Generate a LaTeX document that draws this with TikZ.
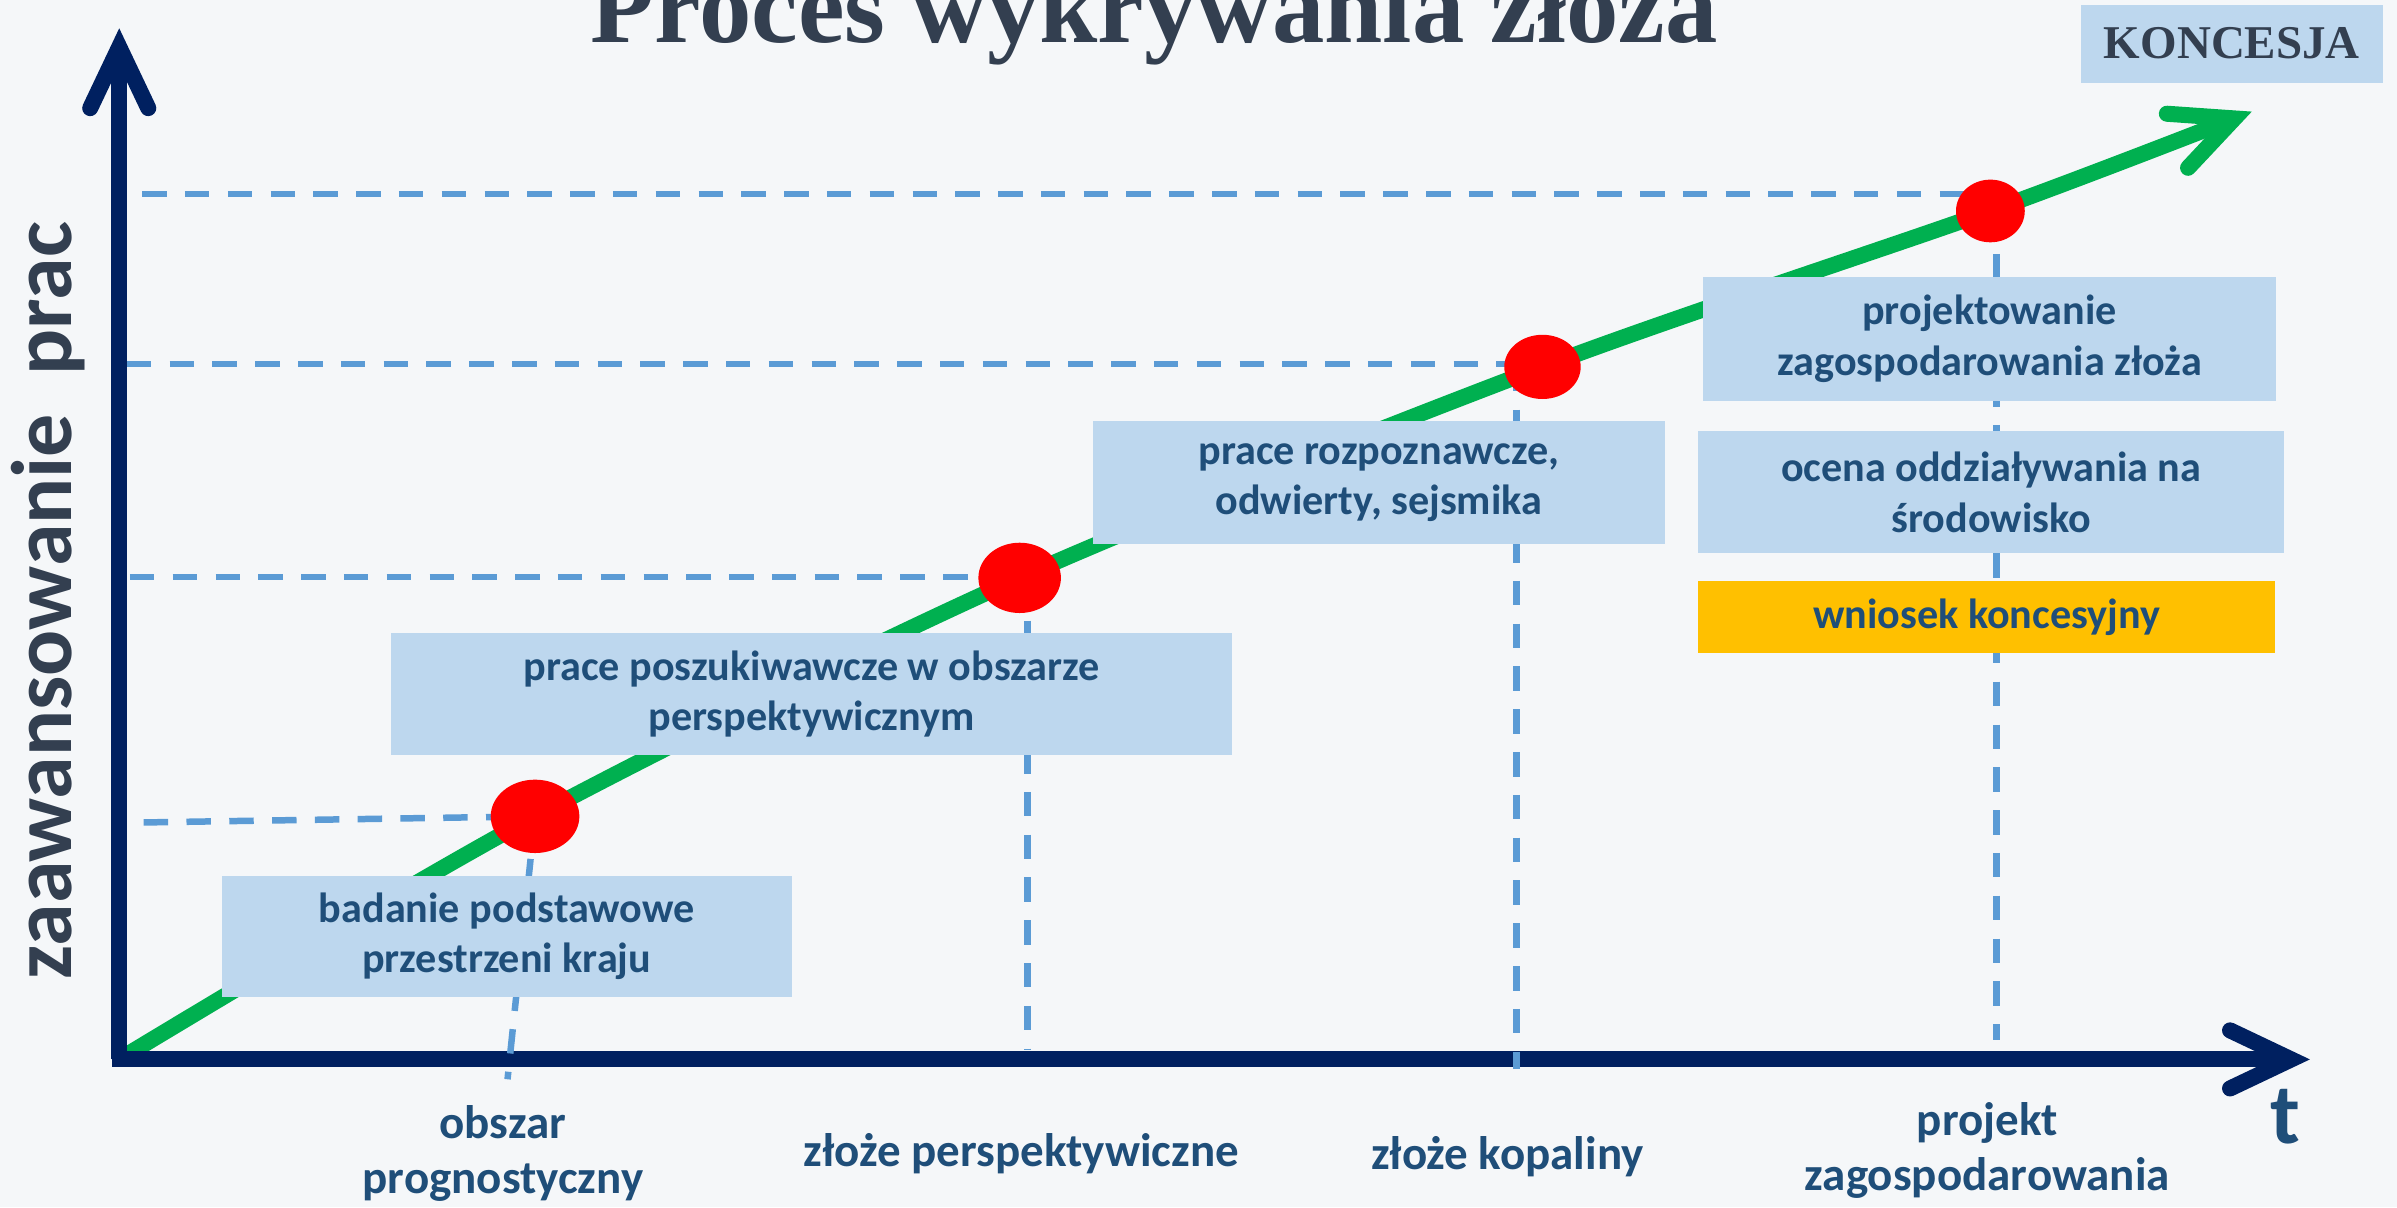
\documentclass[tikz,border=0pt]{standalone}
\usepackage{fontspec}
\setmainfont{Carlito}
\newfontfamily\titlefont{Liberation Serif}
\usetikzlibrary{arrows.meta}
\usetikzlibrary{shapes.geometric}

\definecolor{bgcol}{HTML}{F5F7F9}
\definecolor{axisblue}{HTML}{002060}
\definecolor{guideblue}{HTML}{5B9BD5}
\definecolor{boxblue}{HTML}{BDD7EE}
\definecolor{textblue}{HTML}{1F4E79}
\definecolor{titlegray}{HTML}{333F50}
\definecolor{trendgreen}{HTML}{00B050}
\definecolor{stageyellow}{HTML}{FFC000}

\tikzset{
  chevron/.tip={Straight Barb[length=0.8cm, width=0.76cm, line cap=round, line join=miter]},
  axis/.style={line width=0.21cm, axisblue, -chevron},
  trend/.style={line width=0.21cm, trendgreen, -chevron},
  guide/.style={line width=0.085cm, guideblue, dash pattern=on 0.32cm off 0.24cm},
  stagebox/.style={fill=boxblue, text=textblue, font=\fontsize{15.7}{18.8}\selectfont\bfseries, align=center, inner sep=0pt},
  milestone/.style={ellipse, fill=red, inner sep=0pt},
  tlabel/.style={text=textblue, font=\fontsize{17.5}{20.5}\selectfont\bfseries, align=center, anchor=base}
}

\begin{document}
\begin{tikzpicture}[x=0.02cm, y=-0.02cm]
  \useasboundingbox (0,0) rectangle (1568,789.6);
  \fill[bgcol] (0,0) rectangle (1568,789.6);

  % axes and milestones
  \coordinate (O) at (78,693);
  \coordinate (xstart) at (73,693);
  \coordinate (ytip) at (78,18.5);
  \coordinate (xtip) at (1511,693);
  \coordinate (p1) at (350,534);
  \coordinate (p2) at (667,378);
  \coordinate (p3) at (1009,240);
  \coordinate (p4) at (1302,138);
  \coordinate (gtip) at (1473,73);
  \draw[trend] plot[smooth, tension=0.5] coordinates {(O) (p1) (p2) (p3) (p4) (gtip)};
  \draw[axis] (O) -- (ytip);
  \draw[axis] (xstart) -- (xtip);

  % guide lines
  \coordinate (h1) at (93,127);
  \coordinate (h2) at (83,238);
  \coordinate (h3) at (85,377.5);
  \coordinate (h4) at (94,538);
  \coordinate (v1) at (332,706);
  \coordinate (v2) at (672,687);
  \coordinate (v3) at (992,699);
  \coordinate (v4) at (1306,680);
  \draw[guide] (h1) -- (h1 -| p4);
  \draw[guide] (h2) -- (h2 -| p3);
  \draw[guide] (h3) -- (h3 -| p2);
  \draw[guide] (h4) -- (p1);
  \draw[guide] (p1) -- (v1);
  \draw[guide] (v2 |- p2) -- (v2);
  \draw[guide] (v3 |- p3) -- (v3);
  \draw[guide] (v4 |- p4) -- (v4);

  % stages
  \node[stagebox, minimum width=7.46cm, minimum height=1.58cm] (basic) at (331.5,612.5) {badanie podstawowe\\przestrzeni kraju};
  \node[stagebox, minimum width=11cm, minimum height=1.6cm] (search) at (531,454) {prace poszukiwawcze w obszarze\\perspektywicznym};
  \node[stagebox, minimum width=7.48cm, minimum height=1.61cm] (explore) at (902,315.75) {prace rozpoznawcze,\\odwierty, sejsmika};
  \node[stagebox, minimum width=7.5cm, minimum height=1.62cm] (design) at (1301.5,221.5) {projektowanie\\zagospodarowania złoża};
  \node[stagebox, minimum width=7.66cm, minimum height=1.6cm] (impact) at (1302.5,322) {ocena oddziaływania na\\środowisko};
  \node[stagebox, fill=stageyellow, minimum width=7.54cm, minimum height=0.94cm] (request) at (1299.5,403.5) {wniosek koncesyjny};
  \node[fill=boxblue, text=titlegray, font=\titlefont\bfseries\fontsize{17.5}{21}\selectfont, minimum width=3.96cm, minimum height=1.02cm, inner sep=0pt] (licence) at (1460,28.5) {KONCESJA};

  \node[milestone, minimum width=1.16cm, minimum height=0.96cm] (d1) at (p1) {};
  \node[milestone, minimum width=1.08cm, minimum height=0.92cm] (d2) at (p2) {};
  \node[milestone, minimum width=1.0cm, minimum height=0.84cm] (d3) at (p3) {};
  \node[milestone, minimum width=0.9cm, minimum height=0.82cm] (d4) at (p4) {};

  % labels
  \node[anchor=base, text=titlegray, font=\titlefont\bfseries\fontsize{39}{47}\selectfont] (title) at (755,28) {Proces wykrywania złoża};
  \node[rotate=90, anchor=base, text=titlegray, font=\fontsize{32}{38}\selectfont\bfseries] (ylab) at (46.7,393) {zaawansowanie~~prac};
  \node[tlabel] (area) at (329,780.6) {obszar\\prognostyczny};
  \node[tlabel] (prospect) at (668,763) {złoże perspektywiczne};
  \node[tlabel] (deposit) at (986,765) {złoże kopaliny};
  \node[tlabel] (project) at (1300,778.5) {projekt\\zagospodarowania};
  \node[anchor=base, text=textblue, font=\fontsize{32}{38}\selectfont\bfseries] (tlab) at (1495,748) {t};
\end{tikzpicture}
\end{document}
